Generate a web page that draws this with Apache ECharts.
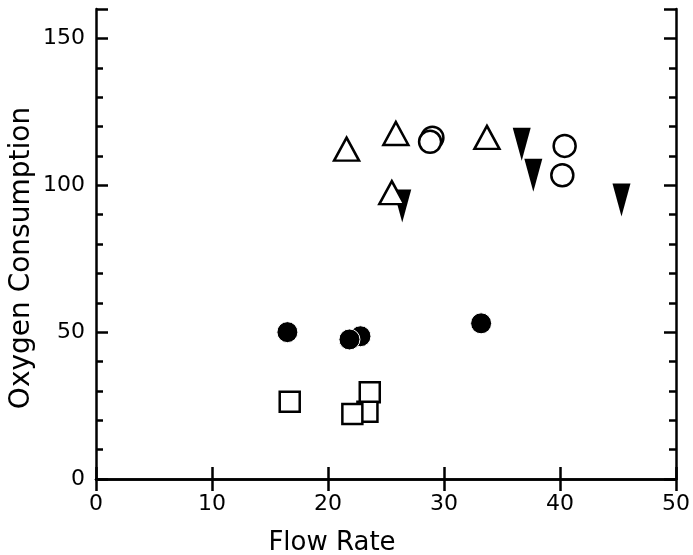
<!DOCTYPE html>
<html>
<head>
<meta charset="utf-8">
<script src="https://cdn.jsdelivr.net/npm/echarts@6/dist/echarts.min.js"></script>
<style>html,body{margin:0;padding:0;background:#fff;}#c{width:693px;height:555px;}</style>
</head>
<body>
<div id="c"></div>
<script>
// Data: [flow rate, oxygen consumption]
const filledDownTriangles = [[26.4, 92.9], [36.7, 114.0], [37.7, 103.4], [45.3, 95.0]];
const openTriangles = [[21.6, 112.3], [25.85, 117.6], [33.7, 116.3], [25.5, 97.5]];
const openCircles = [[29.0, 116.2], [28.8, 114.8], [40.4, 113.4], [40.2, 103.4]];
const filledCircles = [[16.5, 50.0], [22.8, 48.6], [21.85, 47.5], [33.2, 53.0]];
const openSquares = [[16.7, 26.3], [23.6, 29.5], [23.4, 22.9], [22.1, 22.1]];
const xTickLabels = ['0', '10', '20', '30', '40', '50'];
const yTickLabels = ['0', '50', '100', '150'];
const xTitle = 'Flow Rate';
const yTitle = 'Oxygen Consumption';

const FONT = 'DejaVu Sans';
const black = '#000';
const chart = echarts.init(document.getElementById('c'), null, {renderer: 'canvas'});

function yAx(pos, interval, len, labels) {
  return {
    type: 'value', position: pos, min: 0, max: 160, interval: interval,
    axisLine: {show: len === 7, lineStyle: {color: black, width: 2.5}},
    axisTick: {show: true, inside: true, length: len, lineStyle: {color: black, width: 2.5}},
    axisLabel: labels ? {
      show: true, color: black, fontFamily: FONT, fontSize: 22, margin: 11,
      formatter: function (v) { return yTickLabels.indexOf(String(v)) >= 0 ? String(v) : ''; }
    } : {show: false},
    splitLine: {show: false}
  };
}
function xAx(pos, labels) {
  return {
    type: 'value', position: pos, min: 0, max: 50, interval: 10,
    axisLine: {show: true, lineStyle: {color: black, width: 2.5}},
    axisTick: {show: true, inside: true, length: 12, lineStyle: {color: black, width: 2.5}},
    axisLabel: labels ? {
      show: true, color: black, fontFamily: FONT, fontSize: 22, margin: 14,
      formatter: function (v) { return xTickLabels.indexOf(String(v)) >= 0 ? String(v) : ''; }
    } : {show: false},
    splitLine: {show: false}
  };
}

const downTri = 'path://M0,0L10,0L5,18Z';
const option = {
  animation: false,
  backgroundColor: '#fff',
  grid: {left: 96, right: 15, top: 9, bottom: 76, containLabel: false},
  xAxis: [xAx('bottom', true), xAx('top', false)],
  yAxis: [yAx('left', 10, 7, true), yAx('left', 50, 12, false), yAx('right', 10, 7, false), yAx('right', 50, 12, false)],
  series: [
    {type: 'scatter', data: filledDownTriangles, symbol: downTri, symbolSize: [18, 33],
     itemStyle: {color: black, opacity: 1}},
    {type: 'scatter', data: openTriangles, symbol: 'triangle', symbolSize: [25, 23],
     itemStyle: {color: '#fff', borderColor: black, borderWidth: 2.5, opacity: 1}},
    {type: 'scatter', data: openCircles, symbol: 'circle', symbolSize: 22,
     itemStyle: {color: '#fff', borderColor: black, borderWidth: 2.5, opacity: 1}},
    {type: 'scatter', data: filledCircles, symbol: 'circle', symbolSize: 21,
     itemStyle: {color: black, borderColor: '#fff', borderWidth: 1, opacity: 1}},
    {type: 'scatter', data: openSquares, symbol: 'rect', symbolSize: 20,
     itemStyle: {color: '#fff', borderColor: black, borderWidth: 2.5, opacity: 1}}
  ],
  graphic: [
    {type: 'text', x: 332, y: 543, style: {text: xTitle, fill: black, font: '26px "DejaVu Sans"', align: 'center', verticalAlign: 'middle'}},
    {type: 'text', x: 22, y: 258, rotation: Math.PI / 2, style: {text: yTitle, fill: black, font: '28px "DejaVu Sans"', align: 'center', verticalAlign: 'middle'}}
  ]
};
chart.setOption(option);
</script>
</body>
</html>
